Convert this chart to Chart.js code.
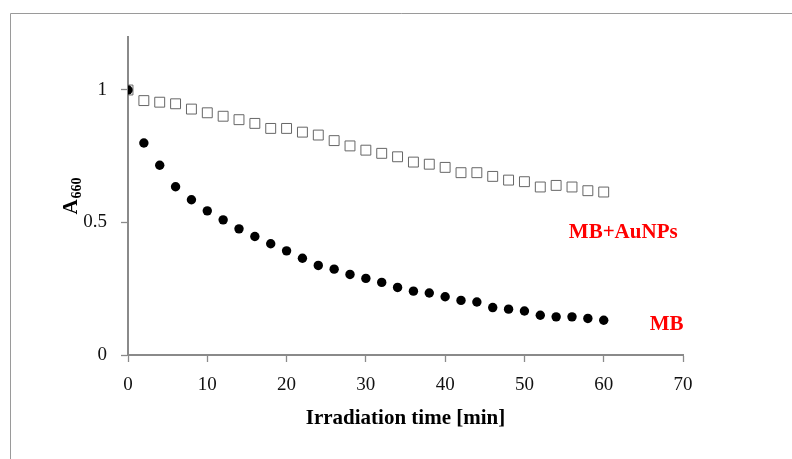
<!DOCTYPE html>
<html>
<head>
<meta charset="utf-8">
<script src="https://cdn.jsdelivr.net/npm/chart.js@4/dist/chart.umd.min.js"></script>
<style>
html,body{margin:0;padding:0;background:#fff;}
#wrap{width:792px;height:459px;position:relative;}
</style>
</head>
<body>
<div id="wrap"><canvas id="c" width="792" height="459"></canvas></div>
<script>
// ---- data ----
const timeMin = [0,2,4,6,8,10,12,14,16,18,20,22,24,26,28,30,32,34,36,38,40,42,44,46,48,50,52,54,56,58,60];
const mbValues = [1.000,0.800,0.716,0.635,0.586,0.544,0.510,0.476,0.447,0.420,0.393,0.365,0.338,0.324,0.304,0.289,0.274,0.255,0.241,0.234,0.220,0.206,0.200,0.179,0.173,0.166,0.150,0.144,0.144,0.138,0.131];
const mbAuValues = [1.000,0.960,0.954,0.948,0.928,0.914,0.901,0.888,0.874,0.855,0.855,0.841,0.830,0.809,0.789,0.773,0.761,0.748,0.728,0.720,0.708,0.688,0.688,0.674,0.660,0.654,0.634,0.640,0.634,0.620,0.615];
const xTicks = [0,10,20,30,40,50,60,70];
const yTicks = [0,0.5,1];
const seriesNames = ['MB','MB+AuNPs'];
const xTitle = 'Irradiation time [min]';
const yTitleMain = 'A';
const yTitleSub = '660';

const serif = '"Liberation Serif", "Times New Roman", serif';
const axisColor = '#8a8a8a';

const toPoints = (xs, ys) => xs.map((x, i) => ({x: x, y: ys[i]}));

const extras = {
  id: 'extras',
  beforeDraw(chart) {
    const ctx = chart.ctx;
    ctx.save();
    ctx.strokeStyle = '#9a9a9a';
    ctx.lineWidth = 1;
    ctx.beginPath();
    ctx.moveTo(10.5, 459);
    ctx.lineTo(10.5, 13.5);
    ctx.lineTo(792, 13.5);
    ctx.stroke();
    ctx.restore();
  },
  afterDraw(chart) {
    const ctx = chart.ctx;
    const xs = chart.scales.x, ys = chart.scales.y;
    const ca = chart.chartArea;
    ctx.save();
    // y axis title with subscript
    ctx.font = 'bold 21px ' + serif;
    const wA = ctx.measureText(yTitleMain).width;
    ctx.font = 'bold 14px ' + serif;
    const wS = ctx.measureText(yTitleSub).width;
    const total = wA + 1 + wS;
    const cy = (ca.top + ca.bottom) / 2;
    ctx.translate(ca.left - 51, cy + total / 2);
    ctx.rotate(-Math.PI / 2);
    ctx.fillStyle = '#000';
    ctx.textBaseline = 'alphabetic';
    ctx.textAlign = 'left';
    ctx.font = 'bold 21px ' + serif;
    ctx.fillText(yTitleMain, 0, 0);
    ctx.font = 'bold 14px ' + serif;
    ctx.fillText(yTitleSub, wA + 1, 4);
    ctx.restore();

    // series labels
    ctx.save();
    ctx.fillStyle = '#ff0000';
    ctx.font = 'bold 21px ' + serif;
    ctx.textBaseline = 'middle';
    ctx.textAlign = 'left';
    ctx.fillText(seriesNames[1], xs.getPixelForValue(55.6), ys.getPixelForValue(0.462));
    ctx.fillText(seriesNames[0], xs.getPixelForValue(65.8), ys.getPixelForValue(0.113));
    ctx.restore();
  }
};

new Chart(document.getElementById('c'), {
  type: 'scatter',
  data: {
    datasets: [
      {
        label: seriesNames[0],
        data: toPoints(timeMin, mbValues),
        pointStyle: 'circle',
        pointRadius: 4.7,
        pointHoverRadius: 4.7,
        backgroundColor: '#000',
        borderColor: '#000',
        borderWidth: 0
      },
      {
        label: seriesNames[1],
        data: toPoints(timeMin, mbAuValues),
        pointStyle: 'rect',
        pointRadius: 7,
        pointHoverRadius: 7,
        backgroundColor: '#fff',
        borderColor: '#666',
        borderWidth: 1
      }
    ]
  },
  options: {
    responsive: false,
    animation: false,
    events: [],
    layout: { padding: { left: 0, top: 37, right: 109, bottom: 0 } },
    plugins: { legend: { display: false }, tooltip: { enabled: false } },
    scales: {
      x: {
        type: 'linear',
        min: 0, max: 70,
        afterFit(s) { s.height = 104; },
        afterBuildTicks(s) { s.ticks = xTicks.map(v => ({value: v})); },
        border: { display: true, color: axisColor, width: 2 },
        grid: { drawOnChartArea: false, drawTicks: true, tickLength: 7, tickColor: axisColor, tickWidth: 1.3 },
        ticks: { color: '#111', font: { family: serif, size: 19 }, padding: 12, maxRotation: 0 },
        title: { display: true, text: xTitle, color: '#000', font: { family: serif, size: 21, weight: 'bold' }, padding: { top: 0, bottom: 28 } }
      },
      y: {
        type: 'linear',
        min: 0, max: 1.2,
        afterFit(s) { s.width = 128; },
        afterBuildTicks(s) { s.ticks = yTicks.map(v => ({value: v})); },
        border: { display: true, color: axisColor, width: 2 },
        grid: { drawOnChartArea: false, drawTicks: true, tickLength: 7, tickColor: axisColor, tickWidth: 1.3 },
        ticks: { color: '#111', font: { family: serif, size: 19 }, padding: 14, callback: v => String(v) }
      }
    }
  },
  plugins: [extras]
});
</script>
</body>
</html>
